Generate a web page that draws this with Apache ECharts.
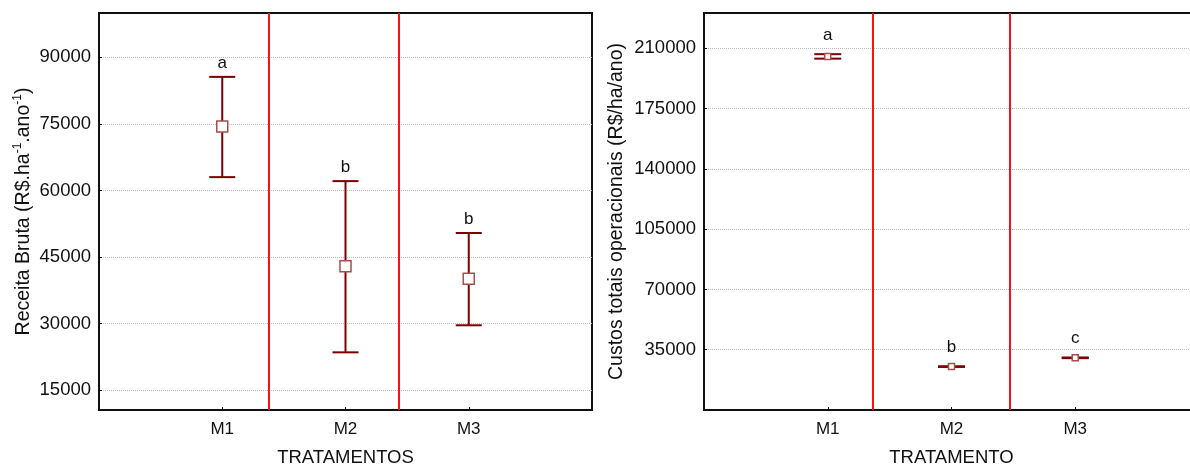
<!DOCTYPE html>
<html lang="pt">
<head>
    <meta charset="UTF-8">
    <title>Receita bruta e custos operacionais</title>
    <script src="https://cdn.jsdelivr.net/npm/echarts@6/dist/echarts.min.js"></script>
</head>
<body style="margin:0">
    <div id="chart_div" style="width: 1190px; height: 466px;"></div>
</body>
    <script type="text/javascript">

       var tratamentos = ['M1', 'M2', 'M3'];
       var posicoes = [1, 2, 3];

       // receita bruta (grafico da esquerda)
       var receitaMedia = [74400, 42900, 40100];
       var receitaMin = [63000, 23500, 29600];
       var receitaMax = [85600, 62100, 50400];
       var receitaLetras = ['a', 'b', 'b'];
       var receitaTicks = [15000, 30000, 45000, 60000, 75000, 90000];
       var receitaDivisoes = [1.38, 2.43];

       // custos totais operacionais (grafico da direita)
       var custoMedia = [205300, 25200, 30300];
       var custoMin = [204000, 25000, 30100];
       var custoMax = [206600, 25400, 30500];
       var custoLetras = ['a', 'b', 'c'];
       var custoTicks = [35000, 70000, 105000, 140000, 175000, 210000];
       var custoDivisoes = [1.36, 2.47];

       var fonte = '"Liberation Sans", Arial, sans-serif';
       var corBarra = '#7d0000';

       function montaDados(media, min, max) {
           var d = [];
           for (var i = 0; i < posicoes.length; i++) {
               d.push([posicoes[i], media[i], min[i], max[i]]);
           }
           return d;
       }

       function barraErro(letras, larguraCap, lado, distLetra) {
           return function (params, api) {
               var x = api.value(0);
               var pm = api.coord([x, api.value(1)]);
               var pl = api.coord([x, api.value(2)]);
               var ph = api.coord([x, api.value(3)]);
               var h = larguraCap / 2;
               var estilo = {stroke: corBarra, lineWidth: 2};
               return {
                   type: 'group',
                   children: [
                       {type: 'line', shape: {x1: pm[0], y1: ph[1], x2: pm[0], y2: pl[1]}, style: estilo},
                       {type: 'line', shape: {x1: pm[0] - h, y1: ph[1], x2: pm[0] + h, y2: ph[1]}, style: estilo},
                       {type: 'line', shape: {x1: pm[0] - h, y1: pl[1], x2: pm[0] + h, y2: pl[1]}, style: estilo},
                       {type: 'rect', shape: {x: pm[0] - lado / 2, y: pm[1] - lado / 2, width: lado, height: lado},
                        style: {fill: '#fff', stroke: '#a84c4c', lineWidth: 1.5}},
                       {type: 'text', x: pm[0], y: ph[1] - distLetra,
                        style: {text: letras[params.dataIndex], fill: '#111', fontSize: 17, fontFamily: fonte,
                                align: 'center', verticalAlign: 'middle'}}
                   ]
               };
           };
       }

       function eixoX(idx, nome) {
           return {
               type: 'value', gridIndex: idx, min: 0, max: 4,
               name: nome, nameLocation: 'middle', nameGap: 38,
               nameTextStyle: {fontSize: 18.5, fontFamily: fonte, color: '#111'},
               axisLine: {show: true, onZero: false, lineStyle: {color: '#111', width: 2}},
               axisTick: {show: true, inside: true, length: 3, customValues: posicoes, lineStyle: {color: '#111'}},
               axisLabel: {
                   customValues: posicoes, margin: 11, fontSize: 17, fontFamily: fonte, color: '#111',
                   formatter: function (v) { return tratamentos[posicoes.indexOf(v)]; }
               },
               splitLine: {show: false}
           };
       }

       function eixoY(idx, nome, min, max, ticks, gap) {
           return {
               type: 'value', gridIndex: idx, min: min, max: max,
               name: nome, nameLocation: 'middle', nameGap: gap,
               nameTextStyle: {
                   fontSize: 19.5, fontFamily: fonte, color: '#111', lineHeight: 24,
                   rich: {sup: {fontSize: 12, fontFamily: fonte, color: '#111', lineHeight: 12, verticalAlign: 'top'}}
               },
               axisLine: {show: true, lineStyle: {color: '#111', width: 2}},
               axisTick: {show: true, inside: true, length: 3, customValues: ticks, lineStyle: {color: '#111'}},
               axisLabel: {
                   customValues: ticks, margin: 8, fontSize: 18.5, fontFamily: fonte, color: '#111',
                   formatter: function (v) { return String(v); }
               },
               splitLine: {show: true, lineStyle: {color: '#bdbdbd', type: 'dotted', width: 1}}
           };
       }

       function divisoes(lista) {
           return {
               silent: true, symbol: 'none', label: {show: false},
               lineStyle: {color: '#ff1010', width: 2, type: 'solid'},
               data: lista.map(function (v) { return {xAxis: v}; })
           };
       }

       var chart = echarts.init(document.getElementById('chart_div'));
       var options = {
           animation: false,
           grid: [
               {left: 99, top: 13, width: 493, bottom: 56, show: true, borderColor: '#111', borderWidth: 2,
                outerBoundsMode: 'none'},
               {left: 704, top: 13, right: -9, bottom: 56, show: true, borderColor: '#111', borderWidth: 2,
                outerBoundsMode: 'none'}
           ],
           xAxis: [eixoX(0, 'TRATAMENTOS'), eixoX(1, 'TRATAMENTO')],
           yAxis: [
               eixoY(0, 'Receita Bruta (R$.ha{sup|-1}.ano{sup|-1})', 10500, 100000, receitaTicks, 63),
               eixoY(1, 'Custos totais operacionais (R$/ha/ano)', 0, 230500, custoTicks, 75)
           ],
           series: [
               {
                   type: 'custom', xAxisIndex: 0, yAxisIndex: 0,
                   renderItem: barraErro(receitaLetras, 26, 11, 14),
                   data: montaDados(receitaMedia, receitaMin, receitaMax),
                   markLine: divisoes(receitaDivisoes)
               },
               {
                   type: 'custom', xAxisIndex: 1, yAxisIndex: 1,
                   renderItem: barraErro(custoLetras, 27, 6, 19),
                   data: montaDados(custoMedia, custoMin, custoMax),
                   markLine: divisoes(custoDivisoes)
               }
           ]
       };
       chart.setOption(options);

    </script>
</html>
